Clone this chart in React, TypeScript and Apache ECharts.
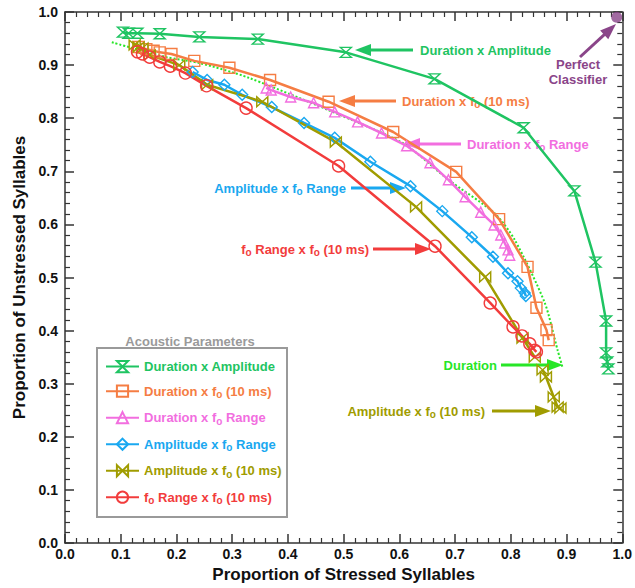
import React, { useEffect, useRef } from 'react';
import * as echarts from 'echarts';

const FONT = '"Liberation Sans", Arial, Helvetica, sans-serif';

const seriesNames = [
  'Duration x Amplitude',
  'Duration x f_o (10 ms)',
  'Duration x f_o Range',
  'Amplitude x f_o Range',
  'Amplitude x f_o (10 ms)',
  'f_o Range x f_o (10 ms)',
];

// Duration x Amplitude
const xDurAmp = [0.104, 0.114, 0.130, 0.170, 0.241, 0.346, 0.504, 0.663, 0.823, 0.914, 0.952, 0.971, 0.971, 0.973, 0.975];
const yDurAmp = [0.962, 0.960, 0.960, 0.959, 0.953, 0.949, 0.924, 0.874, 0.782, 0.663, 0.529, 0.418, 0.358, 0.341, 0.328];
// Duration x fo (10 ms)
const xDurF0 = [0.132, 0.146, 0.159, 0.170, 0.191, 0.232, 0.295, 0.368, 0.473, 0.589, 0.702, 0.779, 0.830, 0.846, 0.864, 0.868];
const yDurF0 = [0.934, 0.930, 0.927, 0.924, 0.921, 0.908, 0.895, 0.872, 0.831, 0.774, 0.699, 0.610, 0.520, 0.443, 0.401, 0.382];
// Duration x fo Range
const xDurRange = [0.361, 0.370, 0.405, 0.446, 0.484, 0.525, 0.568, 0.613, 0.655, 0.688, 0.718, 0.746, 0.770, 0.782, 0.789, 0.795, 0.798];
const yDurRange = [0.857, 0.853, 0.840, 0.829, 0.812, 0.793, 0.772, 0.748, 0.716, 0.684, 0.652, 0.623, 0.599, 0.580, 0.565, 0.552, 0.542];
// Amplitude x fo Range
const xAmpRange = [0.229, 0.255, 0.286, 0.318, 0.371, 0.429, 0.484, 0.548, 0.620, 0.677, 0.730, 0.768, 0.795, 0.812, 0.818, 0.825, 0.827];
const yAmpRange = [0.887, 0.872, 0.863, 0.844, 0.821, 0.791, 0.763, 0.718, 0.672, 0.625, 0.576, 0.539, 0.508, 0.493, 0.480, 0.471, 0.465];
// Amplitude x fo (10 ms)  (null = gap in the line)
const xAmpF0 = [0.125, 0.132, 0.139, 0.152, 0.205, 0.255, 0.354, 0.486, 0.630, 0.754, 0.821, 0.843, null, 0.857, 0.863, 0.877, 0.884, 0.889];
const yAmpF0 = [0.938, 0.934, 0.932, 0.919, 0.900, 0.863, 0.831, 0.755, 0.633, 0.501, 0.386, 0.350, null, 0.326, 0.313, 0.275, 0.256, 0.254];
// fo Range x fo (10 ms)
const xRangeF0 = [0.130, 0.139, 0.152, 0.170, 0.189, 0.216, 0.254, 0.325, 0.491, 0.664, 0.763, 0.804, 0.820, 0.834, 0.843, 0.846];
const yRangeF0 = [0.925, 0.921, 0.915, 0.906, 0.898, 0.885, 0.861, 0.819, 0.710, 0.559, 0.452, 0.407, 0.390, 0.375, 0.363, 0.360];
// Duration alone
const xDur = [0.084, 0.182, 0.241, 0.330, 0.523, 0.611, 0.688, 0.771, 0.807, 0.861, 0.884, 0.893];
const yDur = [0.943, 0.915, 0.904, 0.876, 0.793, 0.750, 0.684, 0.621, 0.571, 0.452, 0.363, 0.330];
// Perfect classifier
const xPerfect = [0.99];
const yPerfect = [0.99];

const seriesX = [xDurAmp, xDurF0, xDurRange, xAmpRange, xAmpF0, xRangeF0];
const seriesY = [yDurAmp, yDurF0, yDurRange, yAmpRange, yAmpF0, yRangeF0];

const colors = ['#1fc462', '#f57d43', '#f26edf', '#1aa8f0', '#a09c00', '#f23c3c'];
const durColor = '#27e627';
const purple = '#8a4589';

const HOURGLASS = 'path://M0,0 L10,0 L0,10 L10,10 Z';
const BOWTIE = 'path://M0,0 L10,10 L10,0 L0,10 Z';
const symbols = [HOURGLASS, 'rect', 'triangle', 'diamond', BOWTIE, 'circle'];
const symbolSizes = [[11, 10], 11, 10, 11, [11, 10], 12];

function pairs(xs: (number | null)[], ys: (number | null)[]) {
  return xs.map((x, i) => (x == null || ys[i] == null ? ['-', '-'] : [x, ys[i]]));
}

function richText(name: string, key: string) {
  const parts = name.split('_o');
  let out = '';
  parts.forEach((p, i) => {
    if (p) out += `{${key}n|${p}}`;
    if (i < parts.length - 1) out += `{${key}s|o}`;
  });
  return out;
}

function richStyles(key: string, color: string, size = 13) {
  return {
    [key + 'n']: { color, fontFamily: FONT, fontWeight: 'bold', fontSize: size, lineHeight: 17 },
    [key + 's']: { color, fontFamily: FONT, fontWeight: 'bold', fontSize: 10, lineHeight: 10, verticalAlign: 'bottom' },
  };
}

const annotations = [
  { name: 'Duration x Amplitude', color: colors[0], tx: 420, ty: 50, align: 'left', from: [413, 50], to: [355, 50] },
  { name: 'Duration x f_o (10 ms)', color: colors[1], tx: 402, ty: 101, align: 'left', from: [396, 101], to: [339, 101] },
  { name: 'Duration x f_o Range', color: colors[2], tx: 467, ty: 144, align: 'left', from: [461, 144], to: [404, 144] },
  { name: 'Amplitude x f_o Range', color: colors[3], tx: 346, ty: 188, align: 'right', from: [351, 188], to: [406, 188] },
  { name: 'f_o Range x f_o (10 ms)', color: colors[5], tx: 369, ty: 249, align: 'right', from: [373, 249], to: [431, 249] },
  { name: 'Duration', color: durColor, tx: 497, ty: 365, align: 'right', from: [501, 365], to: [563, 365] },
  { name: 'Amplitude x f_o (10 ms)', color: colors[4], tx: 485, ty: 411, align: 'right', from: [492, 411], to: [551, 411] },
];

function arrow(from: number[], to: number[], color: string, width = 3, headLen = 16, headHalf = 6) {
  const dx = to[0] - from[0];
  const dy = to[1] - from[1];
  const L = Math.hypot(dx, dy);
  const ux = dx / L, uy = dy / L;
  const bx = to[0] - ux * headLen, by = to[1] - uy * headLen;
  const px = -uy, py = ux;
  return [
    { type: 'line', silent: true, shape: { x1: from[0], y1: from[1], x2: bx + ux * 2, y2: by + uy * 2 }, style: { stroke: color, lineWidth: width } },
    {
      type: 'polygon', silent: true,
      shape: { points: [[to[0], to[1]], [bx + px * headHalf, by + py * headHalf], [bx - px * headHalf, by - py * headHalf]] },
      style: { fill: color },
    },
  ];
}

function buildOption() {
  const axisBase = {
    type: 'value', min: 0, max: 1, interval: 0.1,
    axisLine: { show: true, onZero: false, lineStyle: { color: '#333', width: 1.5 } },
    axisTick: { show: true, inside: true, length: 9, lineStyle: { color: '#333', width: 1.5 } },
    minorTick: { show: true, splitNumber: 5, length: 5, lineStyle: { color: '#333', width: 1.2 } },
    splitLine: { show: false },
    minorSplitLine: { show: false },
  };
  const labelStyle = { fontFamily: FONT, fontWeight: 'bold', fontSize: 14, color: '#111', formatter: (v: number) => v.toFixed(1) };
  const nameStyle = { fontFamily: FONT, fontWeight: 'bold', fontSize: 17, color: '#111' };

  const series: any[] = [
    {
      name: 'Duration', type: 'line', data: pairs(xDur, yDur), showSymbol: false, smooth: 0.25,
      lineStyle: { color: durColor, width: 2, type: 'dotted' }, color: durColor, z: 2, silent: true,
    },
  ];
  seriesNames.forEach((n, i) => {
    series.push({
      name: n, type: 'line', data: pairs(seriesX[i], seriesY[i]),
      color: colors[i],
      symbol: symbols[i], symbolSize: symbolSizes[i], showAllSymbol: true,
      lineStyle: { color: colors[i], width: 2.5 },
      itemStyle: { color: 'rgba(255,255,255,0)', borderColor: colors[i], borderWidth: 1.4 },
      connectNulls: false, z: 3, silent: true,
    });
  });
  series.push({
    name: 'Perfect Classifier', type: 'scatter', data: pairs(xPerfect, yPerfect),
    symbol: 'circle', symbolSize: 11, itemStyle: { color: purple }, z: 5, silent: true,
  });

  const legendRich: any = {};
  seriesNames.forEach((n, i) => Object.assign(legendRich, richStyles('k' + i, colors[i], 13)));

  const graphic: any[] = [];
  annotations.forEach((a, i) => {
    graphic.push(...arrow(a.from, a.to, a.color));
    graphic.push({
      type: 'text', x: a.tx, y: a.ty, silent: true,
      style: {
        text: richText(a.name, 'a' + i), rich: richStyles('a' + i, a.color, 13),
        align: a.align, verticalAlign: 'middle', fill: a.color,
        fontFamily: FONT, fontWeight: 'bold', fontSize: 13,
      },
    });
  });
  graphic.push(...arrow([580, 57], [616, 24], purple));
  graphic.push({
    type: 'text', x: 578, y: 72, silent: true,
    style: { text: 'Perfect\nClassifier', align: 'center', verticalAlign: 'middle', fill: purple, fontFamily: FONT, fontWeight: 'bold', fontSize: 13, lineHeight: 15 },
  });
  graphic.push({
    type: 'rect', silent: true, shape: { x: 97, y: 348, width: 190, height: 169 },
    style: { fill: 'none', stroke: '#9a9a9a', lineWidth: 2 },
  });
  graphic.push({
    type: 'text', x: 190, y: 341, silent: true,
    style: { text: 'Acoustic Parameters', align: 'center', verticalAlign: 'middle', fill: '#9a9a9a', fontFamily: FONT, fontWeight: 'bold', fontSize: 13 },
  });

  return {
    animation: false,
    backgroundColor: '#fff',
    grid: { left: 65, right: 9, top: 12, bottom: 45 },
    xAxis: [
      { ...axisBase, position: 'bottom', axisLabel: { ...labelStyle, margin: 4 }, name: 'Proportion of Stressed Syllables', nameLocation: 'middle', nameGap: 23, nameTextStyle: nameStyle },
      { ...axisBase, position: 'top', axisLabel: { show: false } },
    ],
    yAxis: [
      { ...axisBase, position: 'left', axisLabel: { ...labelStyle, margin: 7 }, name: 'Proportion of Unstressed Syllables', nameLocation: 'middle', nameGap: 31, nameTextStyle: nameStyle },
      { ...axisBase, position: 'right', axisLabel: { show: false } },
    ],
    legend: {
      orient: 'vertical', left: 105, top: 360, padding: 0,
      itemWidth: 33, itemHeight: 14, itemGap: 11.4,
      selectedMode: false,
      data: seriesNames.map((n, i) => ({ name: n, textStyle: { color: colors[i] } })),
      formatter: (name: string) => richText(name, 'k' + seriesNames.indexOf(name)),
      textStyle: { fontFamily: FONT, fontWeight: 'bold', fontSize: 13, rich: legendRich },
    },
    series,
    graphic,
  };
}

export default function App() {
  const ref = useRef<HTMLDivElement>(null);
  useEffect(() => {
    const chart = echarts.init(ref.current!, null, { renderer: 'svg' });
    chart.setOption(buildOption() as any);
    return () => chart.dispose();
  }, []);
  return <div ref={ref} style={{ position: 'fixed', left: 0, top: 0, width: 635, height: 588, background: '#fff' }} />;
}
